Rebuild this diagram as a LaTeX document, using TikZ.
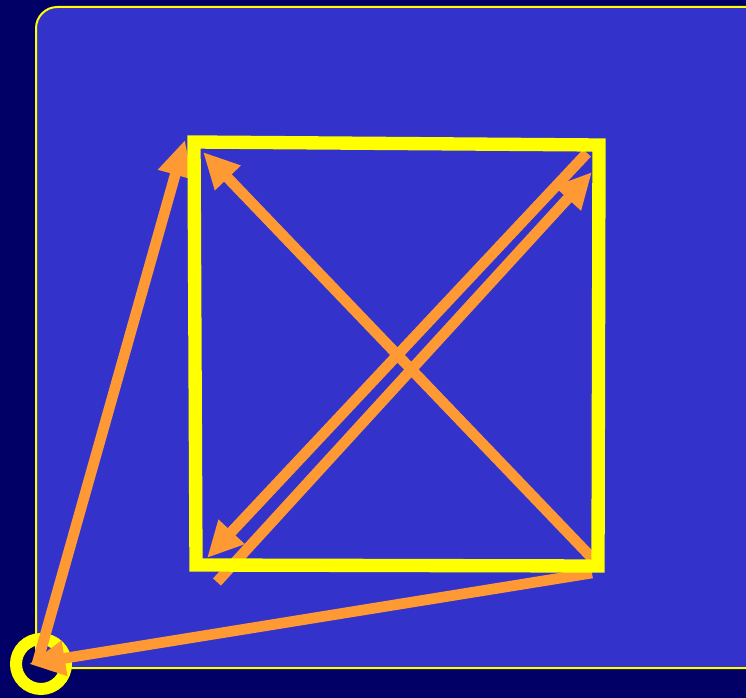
\documentclass[tikz,border=0pt]{standalone}
\usetikzlibrary{arrows.meta}
\definecolor{navy}{HTML}{000066}
\definecolor{panel}{HTML}{3333CC}
\definecolor{lemon}{HTML}{FFFF00}
\definecolor{amber}{HTML}{FF9933}

\begin{document}
\begin{tikzpicture}[x=0.75pt, y=-0.75pt,
    frame/.style={draw=lemon, line width=10pt, line join=miter},
    ring/.style={draw=lemon, line width=9pt, circle, inner sep=0pt, minimum size=37.5pt},
    vec/.style={draw=amber, line width=8pt, -{Triangle[length=27pt, width=25pt]}},
]

\fill[navy] (0,0) rectangle (746,698);
\useasboundingbox (0,0) rectangle (746,698);
\draw[fill=panel, draw=lemon, line width=1.5pt, rounded corners=16pt] (36,7) rectangle (770,668);

% square corners
\coordinate (tl) at (194,142);
\coordinate (tr) at (599,145);
\coordinate (br) at (598,566);
\coordinate (bl) at (196,565);

% arrow ends
\coordinate (up) at (185,140);
\coordinate (upin) at (203,152);
\coordinate (brout) at (592,573);
\coordinate (brin) at (592,558);
\coordinate (trin) at (587,153);
\coordinate (trhead) at (592,172);
\coordinate (blhead) at (207,558);
\coordinate (blout) at (217,582);

\node[ring] (o) at (41,664) {};

\draw[vec] ([xshift=-3]o.center) -- (up);
\draw[vec] (brout) -- ([xshift=-9]o.center);
\draw[vec] (brin) -- (upin);
\draw[vec] (trin) -- (blhead);
\draw[vec] (blout) -- (trhead);

\draw[frame] (tl) -- (tr) -- (br) -- (bl) -- cycle;

\end{tikzpicture}
\end{document}
